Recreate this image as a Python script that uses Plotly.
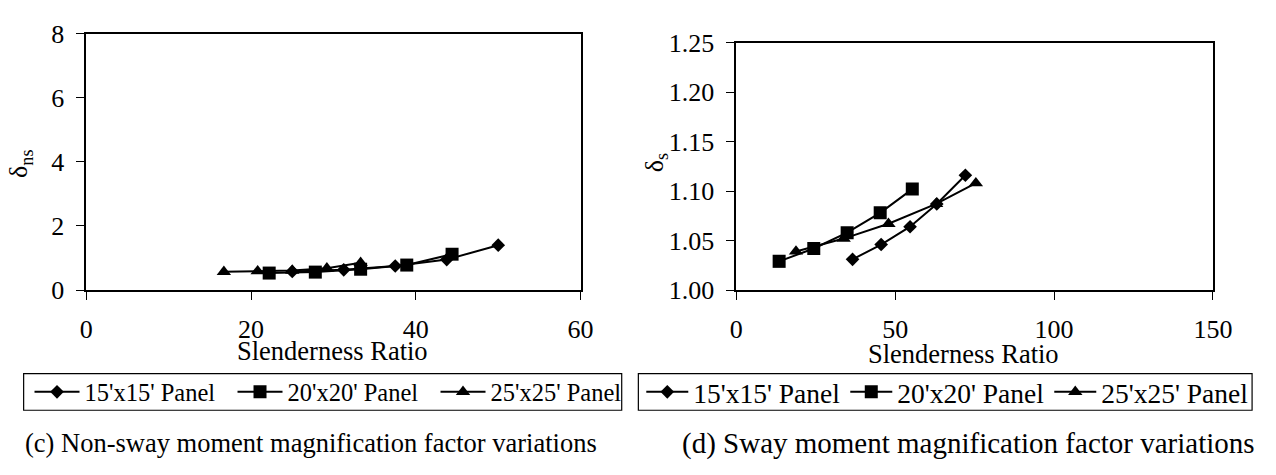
import plotly.graph_objects as go

# ---- data: (c) non-sway moment magnification factor ----
x15_ns = [25.0, 31.25, 37.5, 43.75, 50.0]
y15_ns = [0.58, 0.63, 0.75, 0.95, 1.40]
x20_ns = [22.2, 27.8, 33.3, 38.9, 44.4]
y20_ns = [0.53, 0.56, 0.65, 0.78, 1.12]
x25_ns = [16.7, 20.8, 25.0, 29.2, 33.3]
y25_ns = [0.57, 0.59, 0.61, 0.68, 0.85]

# ---- data: (d) sway moment magnification factor ----
x15_s = [36.6, 45.6, 54.7, 63.1, 72.1]
y15_s = [1.031, 1.046, 1.064, 1.087, 1.116]
x20_s = [13.5, 24.4, 34.9, 45.3, 55.4]
y20_s = [1.029, 1.042, 1.058, 1.078, 1.102]
x25_s = [18.8, 33.8, 47.9, 62.9, 75.4]
y25_s = [1.039, 1.052, 1.067, 1.087, 1.108]

series_names = ["15'x15' Panel", "20'x20' Panel", "25'x25' Panel"]
x_ticks_ns = [0, 20, 40, 60]
y_ticks_ns = [0, 2, 4, 6, 8]
x_ticks_s = [0, 50, 100, 150]
y_ticks_s = [1.00, 1.05, 1.10, 1.15, 1.20, 1.25]

FONT = "Liberation Serif, Times New Roman, serif"
W, H = 1276, 475

symbols = ["diamond", "square", "triangle-up"]
sizes = [10.5, 13, 12.5]

fig = go.Figure()
left_data = [(x15_ns, y15_ns), (x20_ns, y20_ns), (x25_ns, y25_ns)]
right_data = [(x15_s, y15_s), (x20_s, y20_s), (x25_s, y25_s)]
for i, (xs, ys) in enumerate(left_data):
    fig.add_trace(go.Scatter(x=xs, y=ys, mode="lines+markers", name=series_names[i],
                             line=dict(color="black", width=2),
                             marker=dict(symbol=symbols[i], size=sizes[i], color="black"),
                             xaxis="x", yaxis="y", legend="legend"))
for i, (xs, ys) in enumerate(right_data):
    fig.add_trace(go.Scatter(x=xs, y=ys, mode="lines+markers", name=series_names[i],
                             line=dict(color="black", width=2),
                             marker=dict(symbol=symbols[i], size=sizes[i], color="black"),
                             xaxis="x2", yaxis="y2", legend="legend2"))

axis_common = dict(showgrid=False, zeroline=False, showline=True, linecolor="black",
                   linewidth=1.6, mirror=True, ticks="outside", ticklen=8,
                   tickcolor="black", tickwidth=1,
                   tickfont=dict(family=FONT, size=26, color="black"))

def px_x(p):
    return p / W

def px_y(p):
    return (H - p) / H

fig.update_layout(
    width=W, height=H,
    margin=dict(l=0, r=0, t=0, b=0),
    paper_bgcolor="white", plot_bgcolor="white",
    font=dict(family=FONT, color="black"),
    xaxis=dict(domain=[px_x(81), px_x(586)], range=[0, 60], tickvals=x_ticks_ns,
               anchor="y", ticklabelstandoff=7, **axis_common),
    yaxis=dict(domain=[px_y(294), px_y(21)], range=[0, 8], tickvals=y_ticks_ns,
               anchor="x", ticklabelstandoff=7, **axis_common),
    xaxis2=dict(domain=[px_x(745), px_x(1232)], range=[0, 150], tickvals=x_ticks_s,
                anchor="y2", ticklabelstandoff=7, **axis_common),
    yaxis2=dict(domain=[px_y(294), px_y(30.5)], range=[1.0, 1.25], tickvals=y_ticks_s,
                tickformat=".2f", anchor="x2", ticklabelstandoff=7, **axis_common),
    legend=dict(orientation="h", x=px_x(23), xanchor="left", y=px_y(402.5), yanchor="middle",
                borderwidth=0, bgcolor="rgba(0,0,0,0)", itemwidth=45,
                entrywidth=143, entrywidthmode="pixels",
                font=dict(family=FONT, size=24.5, color="black")),
    legend2=dict(orientation="h", x=px_x(648), xanchor="left", y=px_y(402.5), yanchor="middle",
                 borderwidth=0, bgcolor="rgba(0,0,0,0)", itemwidth=42,
                 font=dict(family=FONT, size=27.5, color="black")),
)

# legend frames
fig.add_shape(type="rect", xref="paper", yref="paper", x0=px_x(17), x1=px_x(628),
              y0=px_y(422), y1=px_y(383), line=dict(color="black", width=1.2), layer="below")
fig.add_shape(type="rect", xref="paper", yref="paper", x0=px_x(645), x1=px_x(1272),
              y0=px_y(422), y1=px_y(383), line=dict(color="black", width=1.2), layer="below")

annos = [
    dict(text="Slenderness Ratio", x=px_x(333), y=px_y(359), size=26.5, angle=0),
    dict(text="Slenderness Ratio", x=px_x(977), y=px_y(362), size=26.5, angle=0),
    dict(text="δ<sub>ns</sub>", x=px_x(14), y=px_y(160), size=26, angle=-90),
    dict(text="δ<sub>s</sub>", x=px_x(663), y=px_y(158), size=26, angle=-90),
    dict(text="(c) Non-sway moment magnification factor variations", x=px_x(311), y=px_y(457), size=26.5, angle=0),
    dict(text="(d) Sway moment magnification factor variations", x=px_x(982), y=px_y(457), size=29, angle=0),
]
for a in annos:
    fig.add_annotation(text=a["text"], x=a["x"], y=a["y"], xref="paper", yref="paper",
                       xanchor="center", yanchor="middle", showarrow=False,
                       textangle=a["angle"],
                       font=dict(family=FONT, size=a["size"], color="black"))

fig.write_html("out.html")
